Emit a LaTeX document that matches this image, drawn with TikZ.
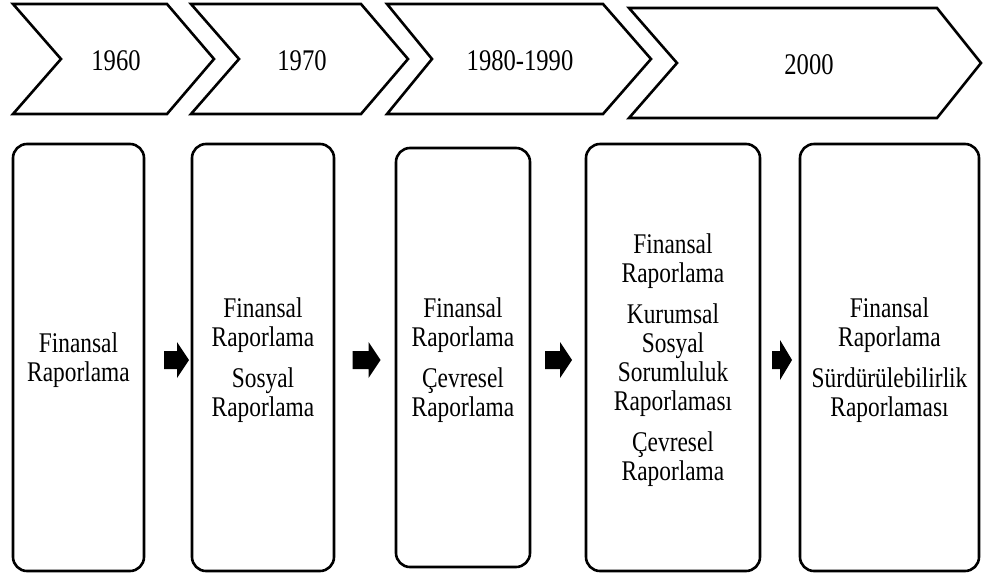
\documentclass[tikz,border=0pt]{standalone}
\usepackage{fontspec}
\setmainfont{Liberation Serif}[FakeStretch=0.82]
\begin{document}
\begin{tikzpicture}[x=1pt,y=-1pt,
  outline/.style={draw=black,line width=2.6pt,line join=miter},
  period/.style={font=\fontsize{30}{30}\selectfont,anchor=base,inner sep=0pt},
  stage/.style={draw=black,line width=2.6pt,rounded corners=14pt,fill=white,
    align=center,font=\fontsize{28.5}{29}\selectfont,inner sep=0pt,text depth=0pt},
]
\useasboundingbox (0,0) rectangle (984,579);

% timeline chevrons: left, notch, top-right, tip, top, bottom
\newcommand\chevron[6]{%
  \draw[outline] (#1,#5) -- (#3,#5) -- (#4,{(#5+#6)/2}) -- (#3,#6) -- (#1,#6) -- (#2,{(#5+#6)/2}) -- cycle;}
\chevron{13}{61}{167}{214}{4}{114}
\chevron{191}{239}{361}{408}{4}{114}
\chevron{387}{432}{603}{651}{4}{114}
\chevron{629}{677}{937}{981}{8}{118}

\node[period] (p1) at (116,70) {1960};
\node[period] (p2) at (302,70) {1970};
\node[period] (p3) at (520,70) {1980-1990};
\node[period] (p4) at (809,74) {2000};

% reporting stages
\node[stage,minimum width=131pt,minimum height=427pt] (s1) at (78.5,357.5)
  {Finansal\\Raporlama};
\node[stage,minimum width=142pt,minimum height=427pt] (s2) at (263,357.5)
  {Finansal\\Raporlama\\[12pt]Sosyal\\Raporlama};
\node[stage,minimum width=134pt,minimum height=419pt] (s3) at (463,357.5)
  {Finansal\\Raporlama\\[12pt]Çevresel\\Raporlama};
\node[stage,minimum width=174pt,minimum height=427pt] (s4) at (673,357.5)
  {Finansal\\Raporlama\\[12pt]Kurumsal\\Sosyal\\Sorumluluk\\Raporlaması\\[12pt]Çevresel\\Raporlama};
\node[stage,minimum width=179pt,minimum height=427pt] (s5) at (889.5,357.5)
  {Finansal\\Raporlama\\[12pt]Sürdürülebilirlik\\Raporlaması};

% block arrows between stages: centre, half length, half head width
\newcommand\blockarrow[3]{%
  \fill[black] ([shift={(-#2,-9)}]#1) -- ([shift={(#2-12,-9)}]#1) -- ([shift={(#2-12,-#3)}]#1)
    -- ([shift={(#2,0)}]#1) -- ([shift={(#2-12,#3)}]#1) -- ([shift={(#2-12,9)}]#1)
    -- ([shift={(-#2,9)}]#1) -- cycle;}
\path (176.5,360) coordinate (a1) (366.5,360) coordinate (a2)
      (558.5,360) coordinate (a3) (782,360) coordinate (a4);
\blockarrow{a1}{12.5}{18}
\blockarrow{a2}{14}{18}
\blockarrow{a3}{13.5}{18}
\blockarrow{a4}{10}{20}
\end{tikzpicture}
\end{document}
